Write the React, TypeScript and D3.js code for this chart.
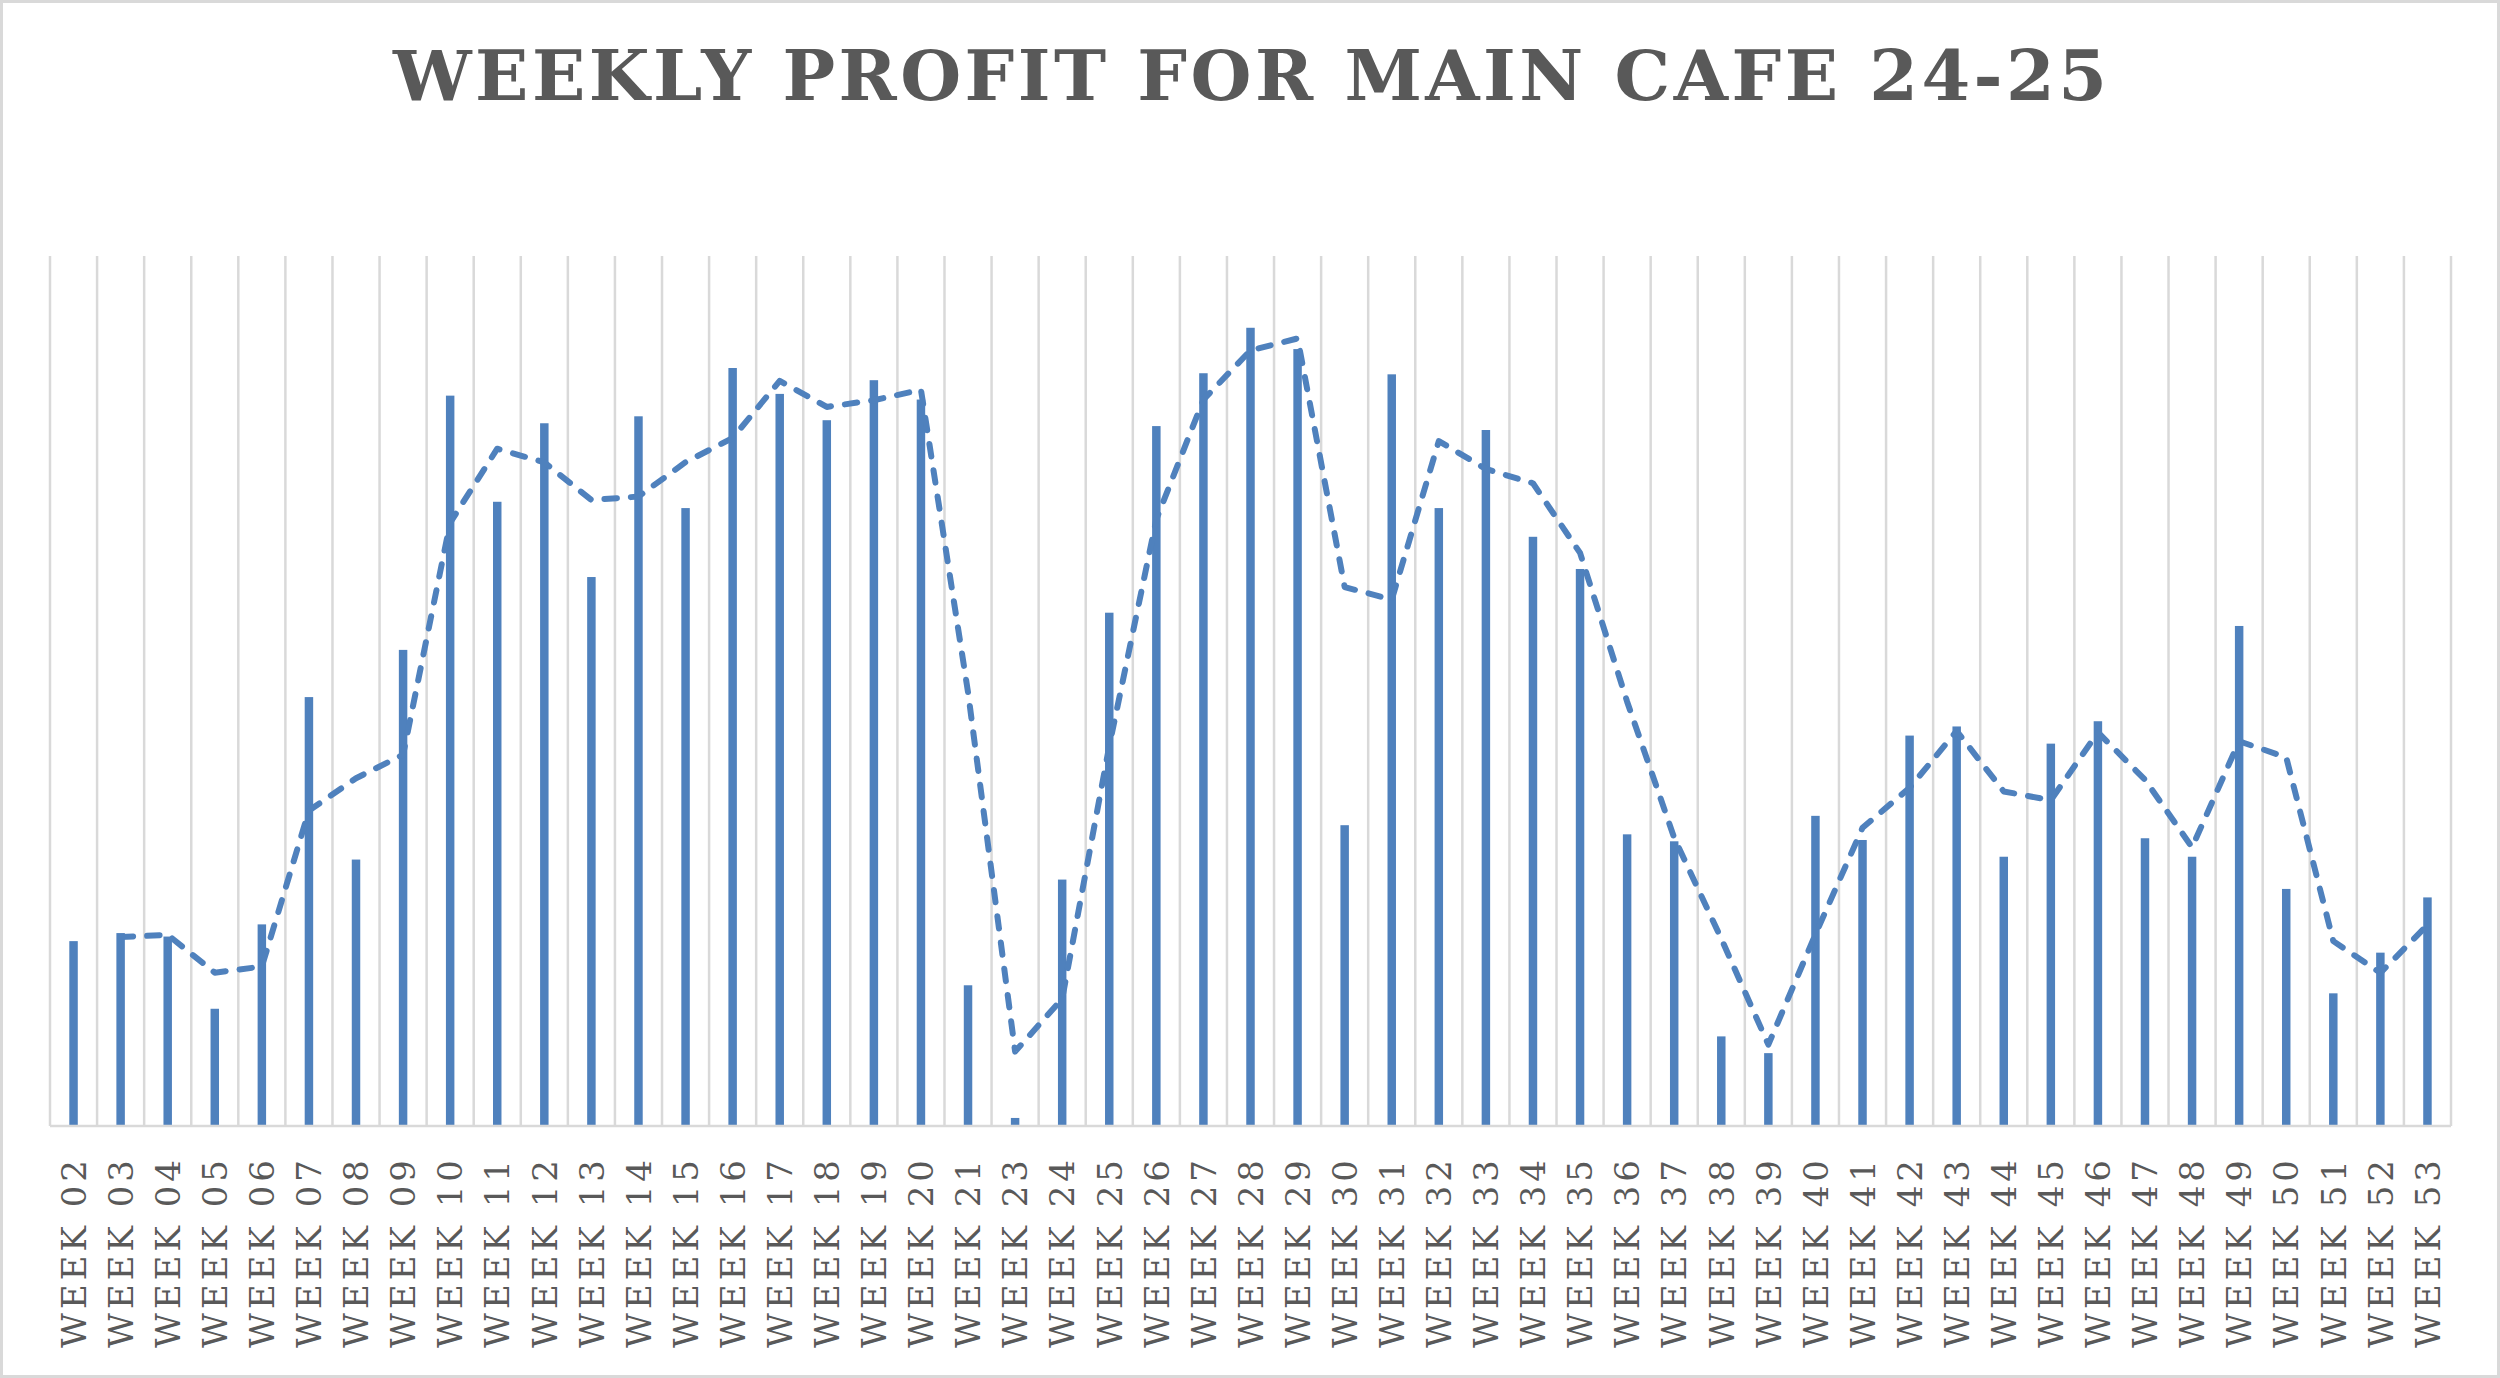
import { line, scaleBand, scaleLinear } from 'd3'

// weekly profit, week 22 is missing in the source sheet
const weeks = [
  'WEEK 02', 'WEEK 03', 'WEEK 04', 'WEEK 05', 'WEEK 06', 'WEEK 07', 'WEEK 08', 'WEEK 09',
  'WEEK 10', 'WEEK 11', 'WEEK 12', 'WEEK 13', 'WEEK 14', 'WEEK 15', 'WEEK 16', 'WEEK 17',
  'WEEK 18', 'WEEK 19', 'WEEK 20', 'WEEK 21', 'WEEK 23', 'WEEK 24', 'WEEK 25', 'WEEK 26',
  'WEEK 27', 'WEEK 28', 'WEEK 29', 'WEEK 30', 'WEEK 31', 'WEEK 32', 'WEEK 33', 'WEEK 34',
  'WEEK 35', 'WEEK 36', 'WEEK 37', 'WEEK 38', 'WEEK 39', 'WEEK 40', 'WEEK 41', 'WEEK 42',
  'WEEK 43', 'WEEK 44', 'WEEK 45', 'WEEK 46', 'WEEK 47', 'WEEK 48', 'WEEK 49', 'WEEK 50',
  'WEEK 51', 'WEEK 52', 'WEEK 53',
]

const profit = [
  850, 887, 871, 539, 927, 1972, 1225, 2189,
  3358, 2870, 3231, 2524, 3263, 2841, 3485, 3366,
  3245, 3429, 3340, 647, 37, 1133, 2360, 3218,
  3461, 3670, 3572, 1383, 3456, 2841, 3200, 2709,
  2561, 1341, 1309, 412, 335, 1426, 1315, 1795,
  1837, 1238, 1758, 1861, 1323, 1238, 2299, 1090,
  610, 797, 1051,
]

// dashed trend line (2 week moving average), no point for the first week
const trend: (number | null)[] = [
  null, 869, 879, 705, 733, 1450, 1599, 1707,
  2774, 3114, 3051, 2878, 2894, 3052, 3163, 3426,
  3306, 3337, 3385, 1994, 342, 585, 1747, 2789,
  3340, 3566, 3621, 2478, 2420, 3149, 3021, 2955,
  2635, 1951, 1325, 861, 374, 881, 1371, 1555,
  1816, 1538, 1498, 1810, 1592, 1281, 1769, 1695,
  850, 704, 924,
]

const W = 2500
const H = 1378
const margin = { top: 256, right: 49, bottom: 252, left: 50 }
const blue = '#4f81bd'
const grid = '#d9d9d9'
const textColor = '#595959'

export default function App() {
  const x = scaleBand<string>()
    .domain(weeks)
    .range([margin.left, W - margin.right])
  const y = scaleLinear()
    .domain([0, 4000])
    .range([H - margin.bottom, margin.top])

  const bw = x.bandwidth()
  const barW = bw * 0.18
  const cx = (w: string) => (x(w) as number) + bw / 2
  const bottom = y(0)

  const trendPath = line<number | null>()
    .defined((d) => d !== null)
    .x((_, i) => cx(weeks[i]))
    .y((d) => y(d as number))(trend)

  return (
    <svg
      width={W}
      height={H}
      style={{ position: 'absolute', left: 0, top: 0, display: 'block', background: '#fff' }}
    >
      <rect x={1.5} y={1.5} width={W - 3} height={H - 3} fill="#fff" stroke={grid} strokeWidth={3} />

      <text
        x={W / 2}
        y={100}
        textAnchor="middle"
        fontFamily="'DejaVu Serif', serif"
        fontWeight="bold"
        fontSize={70}
        fill={textColor}
        textLength={1714}
        lengthAdjust="spacing"
      >
        WEEKLY PROFIT FOR MAIN CAFE 24-25
      </text>

      {/* vertical gridlines on the category boundaries */}
      {weeks.map((w) => (
        <line key={'g' + w} x1={x(w)} x2={x(w)} y1={margin.top} y2={bottom} stroke={grid} strokeWidth={2.5} />
      ))}
      <line
        x1={W - margin.right}
        x2={W - margin.right}
        y1={margin.top}
        y2={bottom}
        stroke={grid}
        strokeWidth={2.5}
      />

      {weeks.map((w, i) => (
        <rect key={'b' + w} x={cx(w) - barW / 2} y={y(profit[i])} width={barW} height={bottom - y(profit[i])} fill={blue} />
      ))}

      <line x1={margin.left} x2={W - margin.right} y1={bottom} y2={bottom} stroke={grid} strokeWidth={2.5} />

      <path
        d={trendPath || ''}
        fill="none"
        stroke={blue}
        strokeWidth={6}
        strokeDasharray="12.5 14"
        strokeLinecap="round"
        strokeLinejoin="round"
      />

      {weeks.map((w) => (
        <text
          key={'t' + w}
          transform={`translate(${cx(w)},${bottom + 30}) rotate(-90)`}
          dy="0.36em"
          textAnchor="end"
          fontFamily="'DejaVu Serif', serif"
          fontSize={34}
          letterSpacing={4}
          fill={textColor}
        >
          {w}
        </text>
      ))}
    </svg>
  )
}
